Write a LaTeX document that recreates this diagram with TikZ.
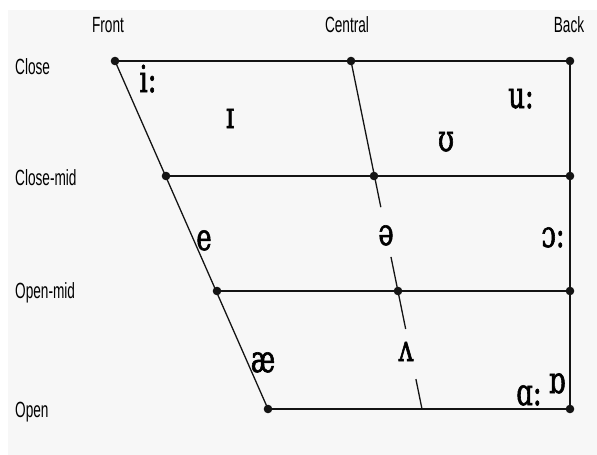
\documentclass[tikz,border=0pt]{standalone}
\usepackage{fontspec}
\usetikzlibrary{calc}
\newfontfamily\lblfont[FakeStretch=0.62]{Liberation Sans}
\newfontfamily\ipafont[FakeStretch=0.7, FakeBold=1.6]{DejaVu Serif}
\definecolor{bgcol}{HTML}{F7F7F7}
\definecolor{ink}{HTML}{141414}

\begin{document}
\begin{tikzpicture}[x=1pt, y=-1pt,
  lbl/.style={font=\lblfont\fontsize{22}{22}\selectfont, inner sep=0pt},
  ipa/.style={font=\ipafont\fontsize{37}{37}\selectfont, inner sep=0pt, anchor=base},
  grid/.style={ink, line width=2.4pt},
  slant/.style={ink, line width=1.3pt}]
  \useasboundingbox (0,0) rectangle (597,455);
  \fill[bgcol] (8,10) rectangle (597,455);

  % front, central and back points
  \coordinate (F1) at (115,61);  \coordinate (C1) at (351,61);  \coordinate (B1) at (570,61);
  \coordinate (F2) at (166,176); \coordinate (C2) at (374,176); \coordinate (B2) at (570,176);
  \coordinate (F3) at (217,291); \coordinate (C3) at (398,291); \coordinate (B3) at (570,291);
  \coordinate (F4) at (268,409); \coordinate (C4) at (422,409); \coordinate (B4) at (570,409);

  % gaps in the central line
  \coordinate (G1) at ($(C1)!0.42!(C4)$);
  \coordinate (G2) at ($(C1)!0.563!(C4)$);
  \coordinate (G3) at ($(C1)!0.77!(C4)$);
  \coordinate (G4) at ($(C1)!0.914!(C4)$);

  \draw[grid] (F1)--(B1);
  \draw[grid] (F2)--(B2);
  \draw[grid] (F3)--(B3);
  \draw[grid] (F4)--(B4);
  \draw[grid] (B1)--(B4);
  \draw[slant] (F1)--(F4);
  \draw[slant] (C1)--(G1);
  \draw[slant] (G2)--(G3);
  \draw[slant] (G4)--(C4);

  \foreach \p in {F1,C1,B1,F2,C2,B2,F3,C3,B3,F4,B4}
    \fill[ink] (\p) circle (4.3);

  % headings
  \node[lbl, anchor=base] (front) at (108,32) {Front};
  \node[lbl, anchor=base] (central) at (347,32) {Central};
  \node[lbl, anchor=base] (back) at (569,32) {Back};
  \node[lbl, anchor=base west] (close) at (15,74) {Close};
  \node[lbl, anchor=base west] (closemid) at (15,185) {Close-mid};
  \node[lbl, anchor=base west] (openmid) at (15,298) {Open-mid};
  \node[lbl, anchor=base west] (open) at (15,417) {Open};

  % vowels
  \node[ipa] (ii) at (148,92) {i:};
  \node[ipa] (ih) at (230,128) {ɪ};
  \node[ipa] (uu) at (521,108) {u:};
  \node[ipa] (uh) at (446,151) {ʊ};
  \node[ipa] (e) at (204,250) {e};
  \node[ipa] (schwa) at (386,245) {ə};
  \node[ipa] (oo) at (553,247) {ɔ:};
  \node[ipa] (ae) at (263,372) {æ};
  \node[ipa] (uv) at (406,361) {ʌ};
  \node[ipa] (ro) at (557,393) {ɒ};
  \node[ipa] (aa) at (529,405) {ɑ:};
\end{tikzpicture}
\end{document}
